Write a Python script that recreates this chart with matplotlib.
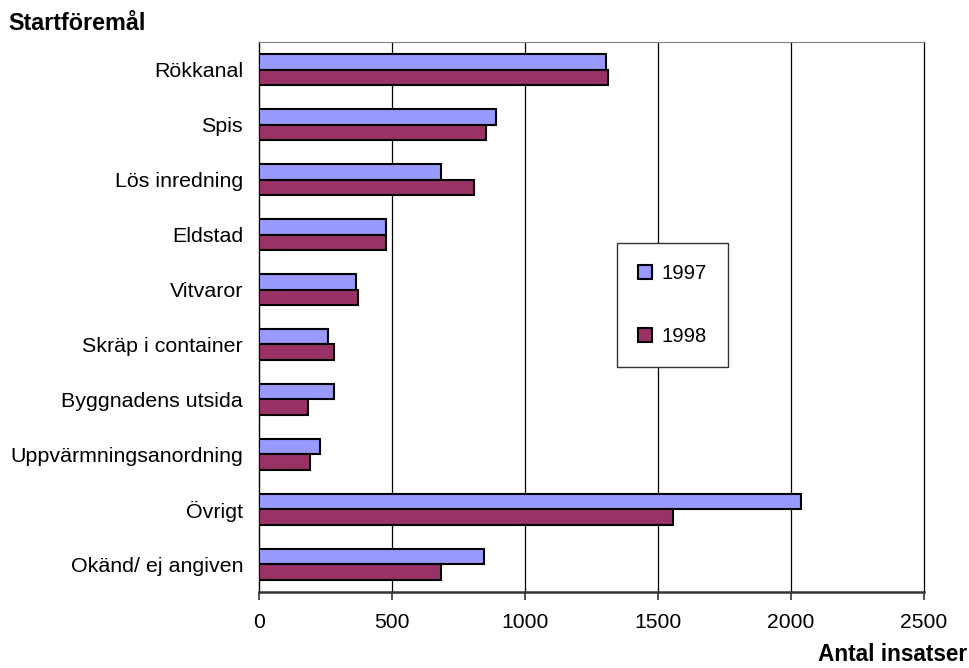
import numpy as np
import matplotlib
matplotlib.use("Agg")
import matplotlib.pyplot as plt

plt.rcParams['font.family'] = ['Liberation Sans', 'DejaVu Sans']

categories = ["Rökkanal", "Spis", "Lös inredning", "Eldstad", "Vitvaror",
              "Skräp i container", "Byggnadens utsida", "Uppvärmningsanordning",
              "Övrigt", "Okänd/ ej angiven"]
v1997 = [1303, 890, 684, 477, 365, 259, 282, 228, 2037, 844]
v1998 = [1311, 852, 808, 477, 372, 282, 183, 190, 1557, 686]
xticks = [0, 500, 1000, 1500, 2000, 2500]

fig = plt.figure(figsize=(9.7, 6.68), dpi=100)
ax = fig.add_axes([0.267, 0.1138, 0.6856, 0.8233])

y = np.arange(len(categories))
h = 0.29
ax.barh(y - h / 2, v1997, height=h, color="#9999FF", edgecolor="black",
        linewidth=1.5, label="1997", zorder=3)
ax.barh(y + h / 2, v1998, height=h, color="#993366", edgecolor="black",
        linewidth=1.5, label="1998", zorder=3)

ax.set_xlim(0, 2500)
ax.set_ylim(9.5, -0.5)
ax.set_xticks(xticks)
ax.set_yticks(y)
ax.set_yticklabels(categories, fontsize=15.4)
ax.tick_params(axis="y", length=0, pad=11.5)
ax.tick_params(axis="x", direction="out", length=6, width=1.2, color="#333333",
               labelsize=15.2, pad=9)

for v in xticks[1:-1]:
    ax.axvline(v, color="black", linewidth=0.9, zorder=1)

ax.spines["left"].set_color("black")
ax.spines["left"].set_linewidth(1.0)
ax.spines["bottom"].set_color("#333333")
ax.spines["bottom"].set_linewidth(1.8)
ax.spines["top"].set_color("#808080")
ax.spines["top"].set_linewidth(0.8)
ax.spines["right"].set_color("black")
ax.spines["right"].set_linewidth(0.9)

leg = ax.legend(loc="upper left", bbox_to_anchor=(0.538, 0.6345), borderaxespad=0,
                fontsize=14.6, handlelength=0.7, handleheight=0.7, handletextpad=0.45,
                labelspacing=2.15, borderpad=1.05, fancybox=False, framealpha=1)
leg.get_frame().set_edgecolor("#333333")
leg.get_frame().set_linewidth(1.0)
for hnd in leg.legend_handles:
    hnd.set_linewidth(1.5)

fig.text(0.009, 0.965, "Startföremål", fontsize=16.8, fontweight="bold",
         ha="left", va="center")
fig.text(0.997, 0.003, "Antal insatser", fontsize=16.3, fontweight="bold",
         ha="right", va="bottom")

fig.savefig("out.png", dpi=100)
